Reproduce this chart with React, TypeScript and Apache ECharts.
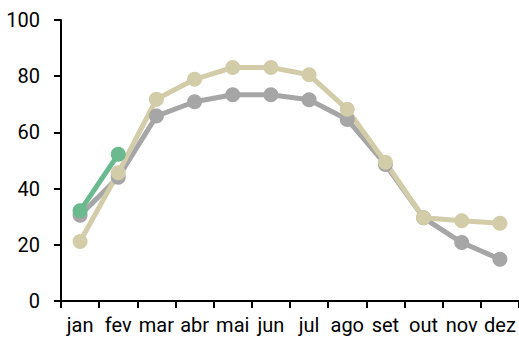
import React, { useEffect, useRef } from "react";
import * as echarts from "echarts";

const months = ["jan", "fev", "mar", "abr", "mai", "jun", "jul", "ago", "set", "out", "nov", "dez"];
const graySeries = [30.5, 44, 65.8, 70.9, 73.4, 73.4, 71.6, 64.6, 48.6, 29.6, 20.8, 14.9];
const beigeSeries = [21.2, 45.6, 71.8, 78.9, 83.1, 83.1, 80.5, 68.2, 49.4, 29.6, 28.6, 27.7];
const greenSeries = [32.1, 52.2, null, null, null, null, null, null, null, null, null, null];
const yTicks = { min: 0, max: 100, interval: 20 };

const FONT = "Roboto, sans-serif";

function mkSeries(name: string, data: (number | null)[], color: string) {
  return {
    name,
    type: "line",
    data,
    symbol: "circle",
    symbolSize: 15,
    lineStyle: { color, width: 5 },
    itemStyle: { color },
    connectNulls: false,
  };
}

export default function App() {
  const ref = useRef<HTMLDivElement>(null);
  useEffect(() => {
    const chart = echarts.init(ref.current!, undefined, { renderer: "svg" });
    chart.setOption({
      animation: false,
      grid: { left: 61, top: 20, width: 463, height: 281 },
      xAxis: {
        type: "category",
        data: months,
        boundaryGap: true,
        axisLine: { lineStyle: { color: "#000", width: 2 } },
        axisTick: { show: true, length: 7, alignWithLabel: false, lineStyle: { color: "#000", width: 2 } },
        axisLabel: { color: "#000", fontSize: 20, fontFamily: FONT, margin: 14, interval: 0 },
        splitLine: { show: false },
      },
      yAxis: {
        type: "value",
        min: yTicks.min,
        max: yTicks.max,
        interval: yTicks.interval,
        axisLine: { show: true, lineStyle: { color: "#000", width: 2 } },
        axisTick: { show: true, length: 7, lineStyle: { color: "#000", width: 2 } },
        axisLabel: { color: "#000", fontSize: 20, fontFamily: FONT, margin: 21 },
        splitLine: { show: false },
      },
      series: [
        mkSeries("gray", graySeries, "#a6a6a6"),
        mkSeries("beige", beigeSeries, "#d3cca9"),
        mkSeries("green", greenSeries, "#6bb98e"),
      ],
    });
    return () => chart.dispose();
  }, []);
  return <div ref={ref} style={{ position: "absolute", left: 0, top: 0, width: 519, height: 338 }} />;
}
